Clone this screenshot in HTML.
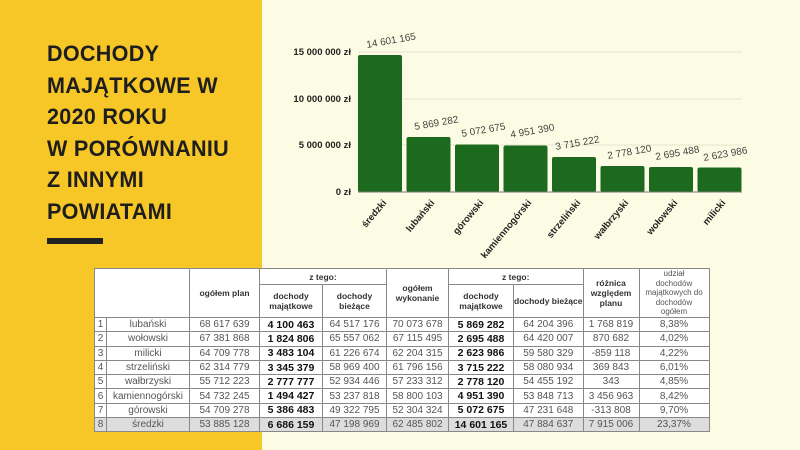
<!DOCTYPE html>
<html><head><meta charset="utf-8"><style>
*{margin:0;padding:0;box-sizing:border-box}
body{width:800px;height:450px;overflow:hidden;position:relative;background:#fcfce4;font-family:"Liberation Sans",sans-serif}
#yel{position:absolute;left:0;top:0;width:262px;height:450px;background:#f7c727}
#title{position:absolute;left:47px;top:38px;font-weight:bold;font-size:22px;line-height:31.5px;color:#1e1e1e;letter-spacing:0.3px;transform:scaleX(0.98);transform-origin:left top}
#bar{position:absolute;left:47px;top:238px;width:56px;height:6px;background:#222}
table{position:absolute;left:94px;top:268px;border-collapse:collapse;background:#fff;font-size:10px;color:#555;table-layout:fixed}
td{border:1px solid #888;text-align:center;height:14.3px;padding:0;white-space:nowrap;overflow:hidden}
.h{font-weight:bold;color:#333;font-size:8.5px;line-height:10px}
b{color:#111;font-size:10.5px}
tr.g td{background:#ddd}
</style></head><body>
<div id="yel"></div>
<div id="title">DOCHODY<br>MAJĄTKOWE W<br>2020 ROKU<br>W PORÓWNANIU<br>Z INNYMI<br>POWIATAMI</div>
<div id="bar"></div>
<svg style="position:absolute;left:0;top:0" width="800" height="265" font-family="Liberation Sans, sans-serif">
<g stroke="#e6e6d0" stroke-width="1"><line x1="358" x2="742" y1="52" y2="52"/><line x1="358" x2="742" y1="99" y2="99"/><line x1="358" x2="742" y1="145" y2="145"/></g>
<g font-size="9.5" font-weight="bold" fill="#222" text-anchor="end">
<text x="351" y="55">15 000 000 zł</text><text x="351" y="102">10 000 000 zł</text><text x="351" y="148">5 000 000 zł</text><text x="351" y="195">0 zł</text></g>
<g fill="#1b6a1d">
<rect x="358" y="55" width="44" height="137" rx="2"/>
<rect x="406.5" y="137" width="44" height="55" rx="2"/>
<rect x="455" y="144.5" width="44" height="47.5" rx="2"/>
<rect x="503.5" y="145.5" width="44" height="46.5" rx="2"/>
<rect x="552" y="157" width="44" height="35" rx="2"/>
<rect x="600.5" y="166" width="44" height="26" rx="2"/>
<rect x="649" y="167" width="44" height="25" rx="2"/>
<rect x="697.5" y="167.5" width="44" height="24.5" rx="2"/></g>
<line x1="358" x2="742" y1="192" y2="192" stroke="#777"/>
<g font-size="10" fill="#444">
<text transform="translate(367,48) rotate(-10)">14 601 165</text>
<text transform="translate(415,130) rotate(-10)">5 869 282</text>
<text transform="translate(462,137) rotate(-10)">5 072 675</text>
<text transform="translate(511,138) rotate(-10)">4 951 390</text>
<text transform="translate(556,150) rotate(-10)">3 715 222</text>
<text transform="translate(608,159) rotate(-10)">2 778 120</text>
<text transform="translate(656,160) rotate(-10)">2 695 488</text>
<text transform="translate(704,161) rotate(-10)">2 623 986</text></g>
<g font-size="9.5" font-weight="bold" fill="#222" text-anchor="end">
<text transform="translate(387,203) rotate(-50)">średzki</text>
<text transform="translate(435,203) rotate(-50)">lubański</text>
<text transform="translate(484,203) rotate(-50)">górowski</text>
<text transform="translate(532,203) rotate(-50)">kamiennogórski</text>
<text transform="translate(581,203) rotate(-50)">strzeliński</text>
<text transform="translate(629,203) rotate(-50)">wałbrzyski</text>
<text transform="translate(678,203) rotate(-50)">wołowski</text>
<text transform="translate(726,203) rotate(-50)">milicki</text></g>
</svg>
<table>
<colgroup><col style="width:12px"><col style="width:83px"><col style="width:70px"><col style="width:63px"><col style="width:64px"><col style="width:62px"><col style="width:65px"><col style="width:68px"><col style="width:56px"><col style="width:70px"></colgroup>
<tr><td colspan="2" rowspan="2"></td><td rowspan="2" class="h">ogółem plan</td><td colspan="2" class="h" style="height:16px">z tego:</td><td rowspan="2" class="h">ogółem<br>wykonanie</td><td colspan="2" class="h">z tego:</td><td rowspan="2" class="h">różnica<br>względem<br>planu</td><td rowspan="2" class="h" style="font-weight:normal;color:#555;font-size:8px;line-height:9.5px">udział<br>dochodów<br>majątkowych do<br>dochodów<br>ogółem</td></tr>
<tr><td class="h" style="height:33px">dochody<br>majątkowe</td><td class="h">dochody<br>bieżące</td><td class="h">dochody<br>majątkowe</td><td class="h">dochody bieżące</td></tr>
<tr><td>1</td><td>lubański</td><td>68 617 639</td><td><b>4 100 463</b></td><td>64 517 176</td><td>70 073 678</td><td><b>5 869 282</b></td><td>64 204 396</td><td>1 768 819</td><td>8,38%</td></tr>
<tr><td>2</td><td>wołowski</td><td>67 381 868</td><td><b>1 824 806</b></td><td>65 557 062</td><td>67 115 495</td><td><b>2 695 488</b></td><td>64 420 007</td><td>870 682</td><td>4,02%</td></tr>
<tr><td>3</td><td>milicki</td><td>64 709 778</td><td><b>3 483 104</b></td><td>61 226 674</td><td>62 204 315</td><td><b>2 623 986</b></td><td>59 580 329</td><td>-859 118</td><td>4,22%</td></tr>
<tr><td>4</td><td>strzeliński</td><td>62 314 779</td><td><b>3 345 379</b></td><td>58 969 400</td><td>61 796 156</td><td><b>3 715 222</b></td><td>58 080 934</td><td>369 843</td><td>6,01%</td></tr>
<tr><td>5</td><td>wałbrzyski</td><td>55 712 223</td><td><b>2 777 777</b></td><td>52 934 446</td><td>57 233 312</td><td><b>2 778 120</b></td><td>54 455 192</td><td>343</td><td>4,85%</td></tr>
<tr><td>6</td><td>kamiennogórski</td><td>54 732 245</td><td><b>1 494 427</b></td><td>53 237 818</td><td>58 800 103</td><td><b>4 951 390</b></td><td>53 848 713</td><td>3 456 963</td><td>8,42%</td></tr>
<tr><td>7</td><td>górowski</td><td>54 709 278</td><td><b>5 386 483</b></td><td>49 322 795</td><td>52 304 324</td><td><b>5 072 675</b></td><td>47 231 648</td><td>-313 808</td><td>9,70%</td></tr>
<tr class="g"><td>8</td><td>średzki</td><td>53 885 128</td><td><b>6 686 159</b></td><td>47 198 969</td><td>62 485 802</td><td><b>14 601 165</b></td><td>47 884 637</td><td>7 915 006</td><td>23,37%</td></tr>
</table>
</body></html>
